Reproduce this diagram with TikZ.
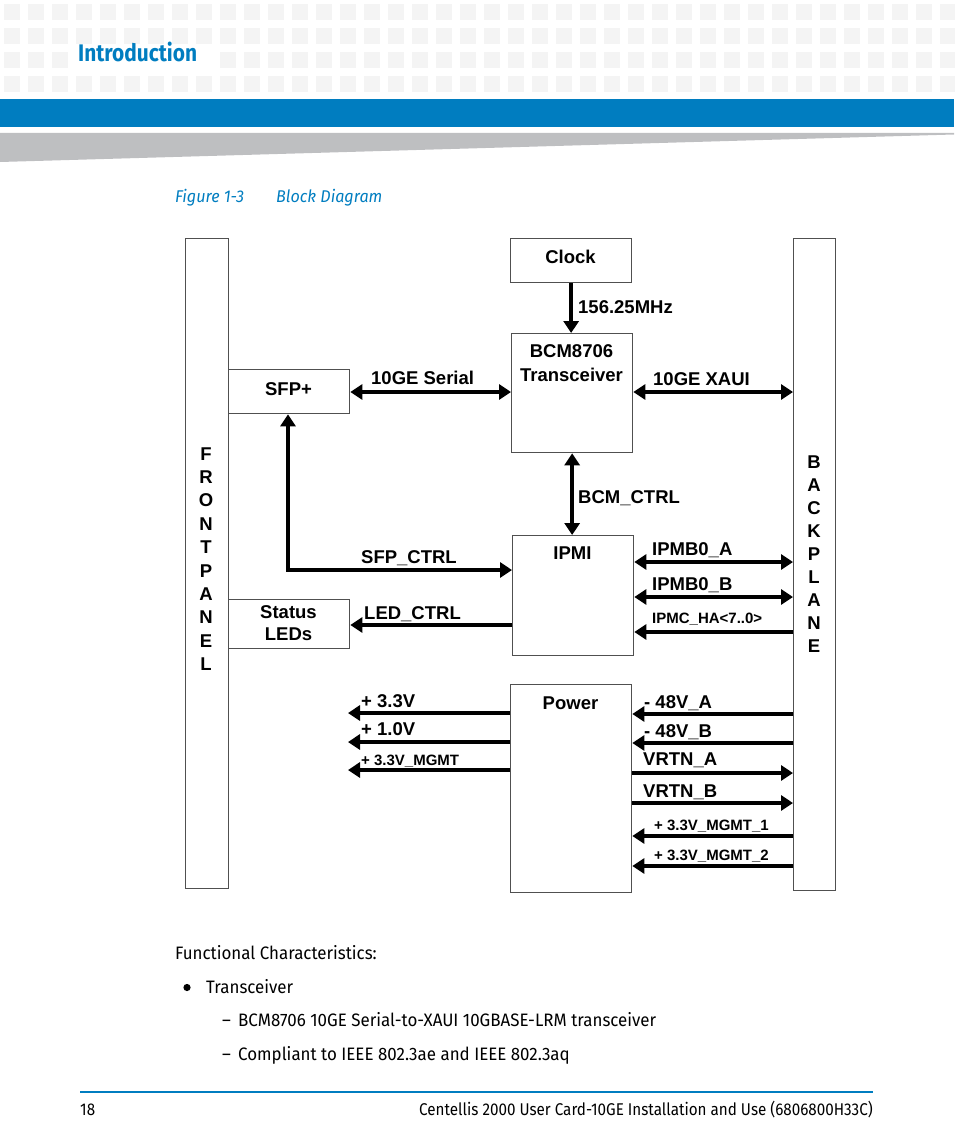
\documentclass[tikz,border=0pt]{standalone}
\usepackage{fontspec}
\setmainfont{Liberation Sans}
\newfontfamily\docfont[FakeStretch=0.94]{Fira Sans}
\newfontfamily\footfont[FakeStretch=0.895]{Fira Sans}
\newfontfamily\capfont[FakeStretch=0.95]{Fira Sans}
\newfontfamily\headfont[FakeStretch=0.87]{Fira Sans}
\usetikzlibrary{arrows.meta}
\definecolor{hdrblue}{HTML}{007DC0}
\definecolor{sqgrey}{HTML}{F4F4F4}
\definecolor{wedgegrey}{HTML}{BEBFC1}
\definecolor{boxgrey}{HTML}{505050}
\tikzset{
  box/.style={draw=boxgrey, line width=1.3pt, inner sep=0pt, anchor=north west},
  btxt/.style={inner sep=0pt, anchor=base, font=\bfseries\fontsize{18.5}{22}\selectfont},
  lbl/.style={inner sep=0pt, anchor=base west, font=\bfseries\fontsize{18.5}{22}\selectfont},
  slbl/.style={inner sep=0pt, anchor=base west, font=\bfseries\fontsize{15}{18}\selectfont},
  wire/.style={line width=4pt},
  ar/.style={wire, -{Triangle[length=12pt,width=15pt]}},
  ab/.style={wire, {Triangle[length=12pt,width=15pt]}-{Triangle[length=12pt,width=15pt]}},
  doc/.style={inner sep=0pt, anchor=base west, font=\docfont\fontsize{18}{21}\selectfont},
  foot/.style={inner sep=0pt, anchor=base west, font=\footfont\fontsize{17}{20}\selectfont},
  captxt/.style={inner sep=0pt, anchor=base west, text=hdrblue, font=\capfont\itshape\fontsize{17}{20}\selectfont},
}
\begin{document}
\begin{tikzpicture}[x=1pt,y=-1pt]
\useasboundingbox (0,0) rectangle (954,1145);
% header
\foreach \r in {0,1,3} \foreach \k in {0,...,39}
  \fill[sqgrey] ({4+24*\k},{4+24*\r}) rectangle ++(16,16);
\foreach \k in {0,1,2,9,10,...,39}
  \fill[sqgrey] ({4+24*\k},52) rectangle ++(16,16);
\fill[hdrblue] (0,99) rectangle (954,127);
\fill[wedgegrey] (0,133) -- (954,133) -- (954,134.5) -- (0,162) -- cycle;
\node[inner sep=0pt, anchor=base west, text=hdrblue, font=\headfont\bfseries\fontsize{24}{28}\selectfont] (intro) at (78,62) {Introduction};
\node[captxt] (figno) at (175,202) {Figure 1-3};
\node[captxt] (figtitle) at (276,202) {Block Diagram};
% boxes
\node[box, minimum width=43pt, minimum height=650pt] (fp) at (185,238) {};
\node[box, minimum width=42pt, minimum height=652pt] (bp) at (793,238) {};
\node[box, minimum width=121pt, minimum height=44pt] (clock) at (510,238) {};
\node[box, minimum width=121pt, minimum height=119pt] (bcm) at (511,333) {};
\node[box, minimum width=121pt, minimum height=44pt] (sfp) at (228,369) {};
\node[box, minimum width=121pt, minimum height=120pt] (ipmi) at (512,535) {};
\node[box, minimum width=121pt, minimum height=49pt] (leds) at (228,599) {};
\node[box, minimum width=121pt, minimum height=208pt] (power) at (510,684) {};
% box texts
\node[btxt] (clockt) at (570.5,263.5) {Clock};
\node[btxt] (sfpt) at (288.5,395.5) {SFP+};
\node[btxt] (bcmt1) at (571.5,357) {BCM8706};
\node[btxt] (bcmt2) at (571.5,381) {Transceiver};
\node[btxt] (ipmit) at (572.5,559) {IPMI};
\node[btxt] (ledt1) at (288.5,618) {Status};
\node[btxt] (ledt2) at (288.5,640) {LEDs};
\node[btxt] (powt) at (570.5,709) {Power};
\foreach \ch [count=\i] in {F,R,O,N,T,P,A,N,E,L}
  \node[btxt] (fpl\i) at (206,{460+23.4*(\i-1)}) {\ch};
\foreach \ch [count=\i] in {B,A,C,K,P,L,A,N,E}
  \node[btxt] (bpl\i) at (814,{468+23*(\i-1)}) {\ch};
% connectors
\draw[ar] (clock.south) -- (bcm.north -| clock.south);
\draw[ab] (sfp.east |- 0,392) -- (bcm.west |- 0,392);
\draw[ab] (bcm.east |- 0,392) -- (bp.west |- 0,392);
\draw[ab] (bcm.south) -- (bcm.south |- ipmi.north);
\draw[ab] (sfp.south -| 288,0) -- (288,570) -- (ipmi.west |- 0,570);
\draw[ar] (ipmi.west |- 0,625) -- (leds.east |- 0,625);
\draw[ab] (ipmi.east |- 0,562) -- (bp.west |- 0,562);
\draw[ab] (ipmi.east |- 0,597) -- (bp.west |- 0,597);
\draw[ar] (bp.west |- 0,632) -- (ipmi.east |- 0,632);
\coordinate (pwl) at (348,713);
\draw[ar] (power.west |- 0,713) -- (pwl |- 0,713);
\draw[ar] (power.west |- 0,742) -- (pwl |- 0,742);
\draw[ar] (power.west |- 0,770) -- (pwl |- 0,770);
\draw[ar] (bp.west |- 0,714) -- (power.east |- 0,714);
\draw[ar] (bp.west |- 0,743) -- (power.east |- 0,743);
\draw[ar] (power.east |- 0,773) -- (bp.west |- 0,773);
\draw[ar] (power.east |- 0,803) -- (bp.west |- 0,803);
\draw[ar] (bp.west |- 0,836) -- (power.east |- 0,836);
\draw[ar] (bp.west |- 0,866) -- (power.east |- 0,866);
% labels
\node[lbl] (lclk) at (578,313) {156.25MHz};
\node[lbl] (lser) at (371,384.5) {10GE Serial};
\node[lbl] (lxaui) at (653,385) {10GE XAUI};
\node[lbl] (lbcm) at (578,503) {BCM\_CTRL};
\node[lbl] (lsfp) at (361,563) {SFP\_CTRL};
\node[lbl] (lled) at (364,619) {LED\_CTRL};
\node[lbl] (lipa) at (652,555) {IPMB0\_A};
\node[lbl] (lipb) at (652,590) {IPMB0\_B};
\node[slbl] (lipc) at (652,623.5) {IPMC\_HA<7..0>};
\node[lbl] (l33) at (361,707) {+ 3.3V};
\node[lbl] (l10) at (361,735) {+ 1.0V};
\node[slbl] (l33m) at (361,765) {+ 3.3V\_MGMT};
\node[lbl] (l48a) at (644,708) {- 48V\_A};
\node[lbl] (l48b) at (644,737) {- 48V\_B};
\node[lbl] (lvra) at (643,765) {VRTN\_A};
\node[lbl] (lvrb) at (643,797) {VRTN\_B};
\node[slbl] (lm1) at (654,830) {+ 3.3V\_MGMT\_1};
\node[slbl] (lm2) at (654,860) {+ 3.3V\_MGMT\_2};
% body text
\node[doc] (func) at (175,959) {Functional Characteristics:};
\fill (187,987.5) circle (3.6pt);
\node[doc] (trx) at (206,993) {Transceiver};
\node[doc] (d1) at (222,1026) {–};
\node[doc] (t1) at (238,1026) {BCM8706 10GE Serial-to-XAUI 10GBASE-LRM transceiver};
\node[doc] (d2) at (222,1060) {–};
\node[doc] (t2) at (238,1060) {Compliant to IEEE 802.3ae and IEEE 802.3aq};
% footer
\draw[hdrblue, line width=1.5pt] (80,1092) -- (873,1092);
\node[foot] (pg) at (80,1115) {18};
\node[foot, anchor=base east] (ftitle) at (873,1115) {Centellis 2000 User Card-10GE Installation and Use (6806800H33C)};
\end{tikzpicture}
\end{document}
